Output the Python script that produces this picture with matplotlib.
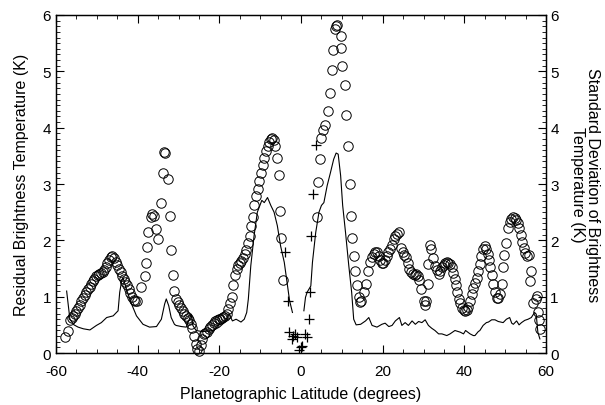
import matplotlib
matplotlib.use('Agg')
import matplotlib.pyplot as plt
from matplotlib.ticker import MultipleLocator

plt.rcParams['font.family'] = ['Liberation Sans', 'DejaVu Sans']
plt.rcParams['axes.unicode_minus'] = False

# residual brightness temperature (circles)
circ_lat = [-57.8, -57.0, -56.6, -56.2, -55.8, -55.4, -55.0, -54.6, -54.2, -53.8,
            -53.4, -53.0, -52.6, -52.2, -51.8, -51.4, -51.0, -50.6, -50.2, -49.8,
            -49.4, -49.0, -48.6, -48.2, -47.8, -47.4, -47.0, -46.6, -46.2, -45.8,
            -45.4, -45.0, -44.6, -44.2, -43.8, -43.4, -43.0, -42.6, -42.2, -41.8,
            -41.4, -41.0, -40.6, -40.2,
            -39.1, -38.3, -38.0, -37.7, -37.5, -36.7, -36.4, -35.9, -35.4, -35.0,
            -34.2, -33.8, -33.5, -33.3, -32.6, -32.2, -31.8, -31.4, -31.0, -30.6,
            -30.2, -29.8, -29.4, -29.0, -28.6, -28.2, -27.8, -27.4, -27.0, -26.6,
            -26.2, -25.8, -25.4, -25.0, -24.6,
            -24.2, -23.8, -23.4, -23.0, -22.6, -22.2, -21.8, -21.4, -21.0, -20.6,
            -20.2, -19.8, -19.4, -19.0, -18.6, -18.2, -17.8, -17.4, -17.0, -16.6,
            -16.2, -15.8, -15.4, -15.0, -14.6, -14.2, -13.8, -13.4, -13.0, -12.6,
            -12.2, -11.8, -11.4, -11.0, -10.6, -10.2, -9.8, -9.4, -9.0, -8.6,
            -8.2, -7.8, -7.4, -7.0, -6.6, -6.3, -6.0, -5.5, -5.1, -4.8, -4.5,
            4.0, 4.2, 4.6, 5.0, 5.4, 5.9, 6.7, 7.0, 7.5, 7.8,
            8.3, 8.6, 8.9, 9.7, 9.9, 10.1, 10.7, 11.0, 11.5, 11.9,
            12.2, 12.5, 12.9, 13.3, 13.7, 14.1, 14.5, 14.8, 15.4, 15.9,
            16.4, 17.0, 17.4, 17.8, 18.2, 18.6, 19.0, 19.4, 19.8, 20.2,
            20.6, 21.0, 21.4, 21.8, 22.2, 22.7, 23.1, 23.5, 24.1, 24.5,
            24.9, 25.3, 25.7, 26.1, 26.5, 26.9, 27.4, 27.8, 28.2, 28.6,
            29.0, 29.4, 30.0, 30.4, 30.6, 31.1, 31.1, 31.6, 31.9, 32.4,
            32.8, 33.2, 33.7, 34.1, 34.5, 34.9, 35.3, 35.7, 36.1, 36.5,
            36.9, 37.3, 37.6, 37.9, 38.2, 38.6, 39.0, 39.4, 39.8, 40.2,
            40.6, 41.0, 41.4, 41.8, 42.2, 42.6, 43.0, 43.4, 43.8, 44.2,
            44.6, 45.0, 45.3, 45.7, 46.1, 46.4, 46.8, 47.1, 47.5, 47.9,
            48.3, 48.7, 49.1, 49.4, 49.8, 50.2, 50.7, 51.1, 51.5, 51.9,
            52.3, 52.7, 53.1, 53.4, 53.8, 54.1, 54.5, 54.9, 55.3, 55.8,
            56.1, 56.4, 56.8, 57.5, 57.9, 58.1, 58.3, 58.6]
circ_val = [0.28, 0.39, 0.58, 0.62, 0.66, 0.70, 0.74, 0.80, 0.86, 0.92,
            0.97, 1.03, 1.08, 1.13, 1.18, 1.22, 1.27, 1.32, 1.36, 1.39,
            1.41, 1.42, 1.43, 1.47, 1.53, 1.60, 1.66, 1.70, 1.72, 1.69,
            1.62, 1.56, 1.50, 1.43, 1.37, 1.31, 1.26, 1.21, 1.14, 1.06,
            0.99, 0.95, 0.92, 0.93,
            1.17, 1.37, 1.60, 1.89, 2.15, 2.41, 2.47, 2.44, 2.20, 2.02,
            2.67, 3.20, 3.57, 3.55, 3.09, 2.43, 1.83, 1.38, 1.10, 0.96,
            0.90, 0.85, 0.80, 0.74, 0.69, 0.65, 0.62, 0.58, 0.52, 0.44,
            0.30, 0.16, 0.07, 0.03, 0.15,
            0.25, 0.33, 0.36, 0.38, 0.42, 0.46, 0.50, 0.53, 0.56, 0.58,
            0.60, 0.61, 0.62, 0.64, 0.66, 0.70, 0.78, 0.88, 0.99, 1.20,
            1.38, 1.50, 1.56, 1.60, 1.64, 1.69, 1.75, 1.83, 1.95, 2.07,
            2.25, 2.42, 2.62, 2.78, 2.92, 3.05, 3.20, 3.33, 3.47, 3.58,
            3.68, 3.75, 3.80, 3.82, 3.78, 3.68, 3.47, 3.16, 2.52, 2.05, 1.30,
            2.42, 3.03, 3.44, 3.81, 3.95, 4.05, 4.30, 4.62, 5.03, 5.37,
            5.76, 5.80, 5.82, 5.63, 5.42, 5.10, 4.76, 4.22, 3.67, 3.00,
            2.43, 2.04, 1.72, 1.46, 1.21, 0.99, 0.90, 0.93, 1.08, 1.22,
            1.46, 1.61, 1.70, 1.76, 1.80, 1.79, 1.72, 1.66, 1.60, 1.60,
            1.65, 1.72, 1.79, 1.85, 1.92, 2.02, 2.07, 2.11, 2.14, 1.87,
            1.80, 1.74, 1.70, 1.60, 1.50, 1.43, 1.40, 1.39, 1.40, 1.36,
            1.30, 1.14, 0.93, 0.86, 0.92, 1.22, 1.58, 1.92, 1.85, 1.68,
            1.55, 1.47, 1.40, 1.45, 1.52, 1.57, 1.60, 1.61, 1.60, 1.58,
            1.52, 1.42, 1.32, 1.20, 1.08, 0.96, 0.88, 0.80, 0.76, 0.74,
            0.76, 0.82, 0.92, 1.05, 1.15, 1.25, 1.34, 1.45, 1.58, 1.72,
            1.84, 1.90, 1.85, 1.76, 1.65, 1.52, 1.38, 1.22, 1.08, 0.98,
            0.98, 1.05, 1.22, 1.52, 1.74, 1.96, 2.22, 2.33, 2.38, 2.42,
            2.40, 2.36, 2.30, 2.22, 2.10, 1.97, 1.87, 1.78, 1.73, 1.74,
            1.28, 1.46, 0.88, 0.96, 1.02, 0.72, 0.58, 0.43]

# near-equator points (plus signs)
plus_lat = [-3.9, -3.3, -2.9, -2.3, -2.0, -1.5, -1.0, -0.5, 0.0, 0.3,
            1.0, 1.5, 2.0, 2.1, 2.4, 3.0, 3.6]
plus_val = [1.80, 0.93, 0.37, 0.25, 0.30, 0.33, 0.28, 0.06, 0.10, 0.13,
            0.33, 0.28, 0.60, 1.08, 2.07, 2.82, 3.70]

# standard deviation of brightness temperature (line), south and north segments
sd_lat_s = [-57.4, -56.6, -55.6, -54.6, -53.3, -51.7, -50.1, -48.9, -47.6, -46.0,
            -44.8, -44.4, -44.0, -43.6, -42.6, -41.5, -40.3, -38.7, -37.1, -35.4,
            -34.2, -33.4, -33.0, -32.4, -31.8, -31.0, -30.6, -29.3, -28.1, -26.9,
            -26.5, -25.7, -24.1, -22.8, -21.6, -20.0, -18.8, -17.6, -16.8, -15.9,
            -14.7, -13.9, -13.3, -12.9, -12.3, -11.5, -10.7, -9.6, -9.0, -8.2,
            -7.4, -6.6, -5.8, -5.0, -4.1, -3.3, -2.8, -2.1]
sd_val_s = [1.10, 0.60, 0.50, 0.46, 0.43, 0.41, 0.49, 0.54, 0.63, 0.66,
            0.75, 1.08, 1.25, 1.34, 1.10, 0.87, 0.66, 0.51, 0.46, 0.47,
            0.60, 0.87, 0.96, 0.84, 0.63, 0.51, 0.49, 0.47, 0.46, 0.69,
            0.49, 0.40, 0.38, 0.39, 0.40, 0.46, 0.54, 0.69, 0.57, 0.60,
            0.55, 0.60, 0.72, 0.96, 1.55, 2.08, 2.50, 2.71, 2.67, 2.76,
            2.62, 2.50, 2.26, 1.90, 1.61, 1.19, 0.93, 0.72]
sd_lat_n = [0.7, 1.1, 1.5, 2.4, 2.8, 3.6, 4.4, 5.0, 5.6, 6.4,
            7.2, 8.0, 8.6, 9.1, 9.7, 10.2, 10.9, 11.7, 12.4, 12.9,
            13.5, 14.6, 15.8, 16.6, 17.4, 18.6, 19.8, 20.6, 21.5, 22.3,
            23.1, 24.1, 24.7, 25.5, 26.3, 27.2, 28.0, 28.8, 29.6, 30.4,
            31.2, 32.0, 32.8, 33.7, 34.5, 35.7, 36.5, 37.7, 39.0, 39.8,
            40.3, 41.4, 42.2, 42.6, 43.4, 43.8, 44.6, 45.4, 45.9, 46.7,
            47.5, 48.3, 49.5, 50.3, 51.1, 51.6, 52.0, 52.8, 53.4, 54.0,
            54.8, 55.6, 56.4, 57.2, 57.6, 58.0, 58.5]
sd_val_n = [0.75, 0.99, 1.08, 1.19, 1.61, 2.14, 2.50, 2.62, 2.67, 2.97,
            3.20, 3.44, 3.55, 3.53, 3.15, 2.62, 2.14, 1.55, 1.08, 0.60,
            0.50, 0.51, 0.57, 0.63, 0.49, 0.46, 0.51, 0.53, 0.47, 0.49,
            0.57, 0.63, 0.49, 0.54, 0.49, 0.57, 0.51, 0.56, 0.54, 0.59,
            0.49, 0.44, 0.40, 0.34, 0.34, 0.31, 0.34, 0.40, 0.37, 0.34,
            0.40, 0.34, 0.31, 0.31, 0.38, 0.40, 0.49, 0.54, 0.55, 0.59,
            0.59, 0.56, 0.54, 0.60, 0.63, 0.53, 0.51, 0.57, 0.50, 0.54,
            0.58, 0.60, 0.63, 0.72, 0.69, 0.37, 0.25]

fig = plt.figure(figsize=(6.05, 4.06), dpi=100)
ax = fig.add_axes([0.0926, 0.128, 0.8099, 0.8326])
ax2 = ax.twinx()

ax.plot(circ_lat, circ_val, 'o', mfc='none', mec='black', ms=6.8, mew=0.7,
        linestyle='none', clip_on=False, zorder=3)
ax.plot(plus_lat, plus_val, '+', color='black', ms=6.5, mew=0.9,
        linestyle='none', zorder=3)
ax2.plot(sd_lat_s, sd_val_s, '-', color='black', lw=0.8)
ax2.plot(sd_lat_n, sd_val_n, '-', color='black', lw=0.8)

ax.set_xlim(-60, 60)
ax.set_ylim(0, 6)
ax2.set_ylim(0, 6)

ax.xaxis.set_major_locator(MultipleLocator(20))
ax.xaxis.set_minor_locator(MultipleLocator(5))
for a in (ax, ax2):
    a.yaxis.set_major_locator(MultipleLocator(1))
    a.yaxis.set_minor_locator(MultipleLocator(0.1))
ax.tick_params(axis='both', which='major', direction='in', length=6, width=0.8,
               labelsize=11, top=True)
ax.tick_params(axis='both', which='minor', direction='in', length=3, width=0.6,
               top=True)
ax.tick_params(axis='x', which='major', pad=8)
ax.tick_params(axis='y', which='both', right=False)
ax2.tick_params(axis='y', which='major', direction='in', length=6, width=0.8,
                labelsize=11, pad=3)
ax2.tick_params(axis='y', which='minor', direction='in', length=3, width=0.6)

for a in (ax, ax2):
    labs = a.get_yticklabels()
    labs[0].set_va('bottom')
    labs[-1].set_va('top')
    for s in a.spines.values():
        s.set_linewidth(0.9)

ax.set_xlabel('Planetographic Latitude (degrees)', fontsize=11.5, labelpad=6)
ax.set_ylabel('Residual Brightness Temperature (K)', fontsize=11.5, labelpad=10)
ax2.set_ylabel('Standard Deviation of Brightness\nTemperature (K)', fontsize=11.5,
               rotation=270, labelpad=30, linespacing=1.0)

fig.savefig('out.png', dpi=100)
